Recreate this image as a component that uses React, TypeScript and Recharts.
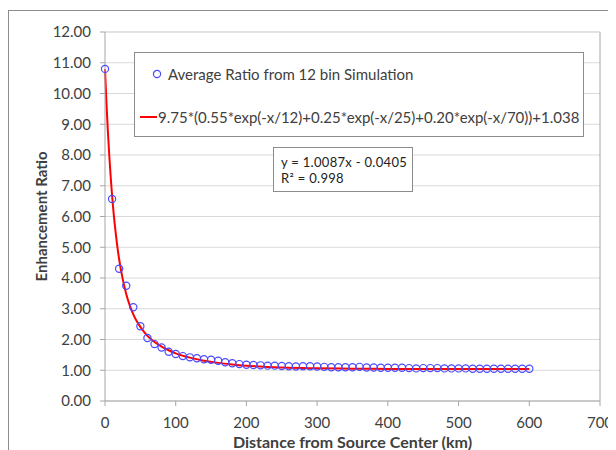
import { ComposedChart, Line, Scatter, XAxis, YAxis, CartesianGrid, ReferenceLine } from "recharts";

// simulation points, every 10 km
const distKm = [
  0, 10, 20, 30, 40, 50, 60, 70, 80, 90,
  100, 110, 120, 130, 140, 150, 160, 170, 180, 190,
  200, 210, 220, 230, 240, 250, 260, 270, 280, 290,
  300, 310, 320, 330, 340, 350, 360, 370, 380, 390,
  400, 410, 420, 430, 440, 450, 460, 470, 480, 490,
  500, 510, 520, 530, 540, 550, 560, 570, 580, 590, 600,
];
const avgRatio = [
  10.8, 6.57, 4.3, 3.75, 3.05, 2.43, 2.05, 1.85, 1.74, 1.6,
  1.53, 1.46, 1.42, 1.39, 1.36, 1.34, 1.31, 1.26, 1.23, 1.2,
  1.18, 1.17, 1.16, 1.15, 1.15, 1.14, 1.13, 1.12, 1.13, 1.13,
  1.12, 1.11, 1.1, 1.1, 1.1, 1.1, 1.11, 1.09, 1.09, 1.08,
  1.08, 1.08, 1.08, 1.07, 1.06, 1.07, 1.07, 1.07, 1.06, 1.06,
  1.06, 1.06, 1.05, 1.05, 1.05, 1.05, 1.05, 1.05, 1.05, 1.05, 1.05,
];

// fitted curve
const fitKm = [0, 2, 4, 6, 8, 10, 12, 15, 18, 20, 25, 30, 35, 40, 45, 50, 60, 70, 80, 90, 100, 120, 140, 160, 180, 200, 250, 300, 350, 400, 450, 500, 550, 600];
const fitRatio = [
  10.79, 9.72, 8.8, 8.0, 7.3, 6.69, 6.16, 5.49, 4.93, 4.61, 3.97, 3.48, 3.11, 2.82, 2.59, 2.41,
  2.12, 1.92, 1.77, 1.65, 1.55, 1.41, 1.31, 1.24, 1.19, 1.15, 1.09, 1.065, 1.051, 1.044, 1.041, 1.04, 1.039, 1.038,
];

const xTicks = [0, 100, 200, 300, 400, 500, 600, 700];
const yTicks = [0, 1, 2, 3, 4, 5, 6, 7, 8, 9, 10, 11, 12];

const scatterLabel = "Average Ratio from 12 bin Simulation";
const fitLabel = "9.75*(0.55*exp(-x/12)+0.25*exp(-x/25)+0.20*exp(-x/70))+1.038";
const trendLines = ["y = 1.0087x - 0.0405", "R² = 0.998"];

const points = distKm.map((x, i) => ({ x, y: avgRatio[i] }));
const fitLine = fitKm.map((x, i) => ({ x, y: fitRatio[i] }));

const FONT = "Lato, 'Open Sans', sans-serif";
const TXT = "#404040";

function Marker(props: any) {
  return <circle cx={props.cx} cy={props.cy} r={3.6} fill="none" stroke="#4a4aff" strokeWidth={1.2} />;
}

function LegendBox() {
  return (
    <div
      style={{
        position: "absolute",
        left: 126,
        top: 42,
        width: 450,
        height: 85,
        border: "1px solid #8c8c8c",
        background: "#fff",
        fontFamily: FONT,
        fontSize: 15,
        color: TXT,
        boxSizing: "border-box",
      }}
    >
      <div style={{ position: "absolute", left: 9, top: 12, display: "flex", alignItems: "center" }}>
        <svg width={22} height={14}>
          <circle cx={13} cy={7} r={3.6} fill="none" stroke="#4a4aff" strokeWidth={1.2} />
        </svg>
        <span style={{ marginLeft: 2 }}>{scatterLabel}</span>
      </div>
      <div style={{ position: "absolute", left: 4, top: 55, display: "flex", alignItems: "center" }}>
        <svg width={19} height={14}>
          <line x1={1} y1={7} x2={18} y2={7} stroke="#ff0000" strokeWidth={2} />
        </svg>
        <span>{fitLabel}</span>
      </div>
    </div>
  );
}

function YTitle(props: any) {
  const { viewBox } = props;
  const cx = 33;
  const cy = viewBox ? viewBox.y + viewBox.height / 2 : 207;
  return (
    <text
      x={cx}
      y={cy}
      transform={`rotate(-90, ${cx}, ${cy})`}
      textAnchor="middle"
      dominantBaseline="central"
      fontFamily={FONT}
      fontSize={15}
      fontWeight="bold"
      fill={TXT}
    >
      Enhancement Ratio
    </text>
  );
}

export default function App() {
  return (
    <div style={{ position: "relative", width: 608, height: 440, marginTop: 2 }}>
      <div
        style={{
          position: "absolute",
          left: 0,
          top: 0,
          width: 608,
          height: 440,
          borderLeft: "1px solid #8c8c8c",
          borderTop: "1px solid #8c8c8c",
          boxSizing: "border-box",
        }}
      />
      <ComposedChart width={608} height={440} margin={{ top: 22, right: 16, bottom: 0, left: 0 }}>
        <CartesianGrid vertical={false} stroke="#d9d9d9" strokeWidth={1} />
        <ReferenceLine x={700} stroke="#a6a6a6" />
        <ReferenceLine y={12} stroke="#d9d9d9" />
        <XAxis
          type="number"
          dataKey="x"
          domain={[0, 700]}
          ticks={xTicks}
          interval={0}
          height={49}
          stroke="#a6a6a6"
          tickSize={5}
          tickMargin={11}
          tick={{ fill: TXT, fontSize: 15, fontFamily: FONT }}
          label={{
            value: "Distance from Source Center (km)",
            position: "insideBottom",
            offset: 2,
            fill: TXT,
            fontSize: 16,
            fontWeight: "bold",
            fontFamily: FONT,
          }}
        />
        <YAxis
          type="number"
          dataKey="y"
          domain={[0, 12]}
          ticks={yTicks}
          interval={0}
          width={97}
          stroke="#a6a6a6"
          tickSize={5}
          tickMargin={9}
          tickFormatter={(v: number) => v.toFixed(2)}
          tick={{ fill: TXT, fontSize: 15, fontFamily: FONT }}
          label={<YTitle />}
        />
        <Line
          data={fitLine}
          dataKey="y"
          type="monotone"
          stroke="#ff0000"
          strokeWidth={2}
          dot={false}
          isAnimationActive={false}
        />
        <Scatter data={points} dataKey="y" shape={<Marker />} isAnimationActive={false} />
      </ComposedChart>
      <LegendBox />
      <div
        style={{
          position: "absolute",
          left: 265,
          top: 137,
          width: 140,
          height: 45,
          border: "1px solid #8c8c8c",
          background: "#fff",
          fontFamily: FONT,
          fontSize: 13,
          letterSpacing: 0.3,
          whiteSpace: "nowrap",
          color: "#222",
          lineHeight: "16px",
          padding: "6px 0 0 7px",
          boxSizing: "border-box",
        }}
      >
        {trendLines.map((t) => (
          <div key={t}>{t}</div>
        ))}
      </div>
    </div>
  );
}
